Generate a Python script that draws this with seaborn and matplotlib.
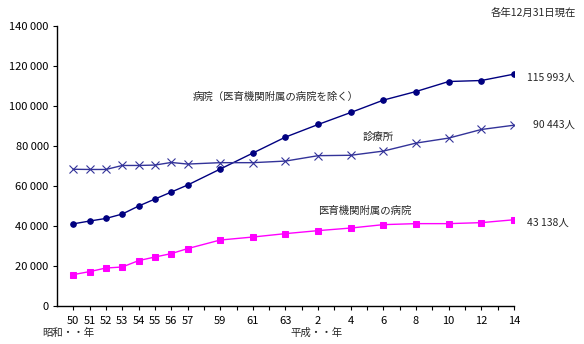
import matplotlib
matplotlib.use("Agg")
import matplotlib.pyplot as plt
import seaborn as sns
import pandas as pd
from matplotlib.ticker import FuncFormatter

# Data (year in Western calendar; labels in Japanese era years)
years = [1975, 1976, 1977, 1978, 1979, 1980, 1981, 1982, 1984, 1986, 1988,
         1990, 1992, 1994, 1996, 1998, 2000, 2002]
tick_labels = ["50", "51", "52", "53", "54", "55", "56", "57", "59", "61", "63",
               "2", "4", "6", "8", "10", "12", "14"]
hospitals = [41100, 42500, 43800, 46000, 50000, 53500, 57000, 60500, 68500, 76500,
             84500, 90800, 96800, 103000, 107300, 112300, 112800, 115993]
clinics = [68400, 68300, 68300, 70300, 70300, 70500, 71800, 71000, 71700, 71700,
           72500, 75200, 75400, 77500, 81500, 84000, 88300, 90443]
univ_hospitals = [15700, 17200, 19000, 19500, 22700, 24500, 26200, 28700, 33000, 34500,
                  36200, 37700, 39000, 40700, 41200, 41200, 41700, 43138]
series_names = ["病院（医育機関附属の病院を除く）", "診療所", "医育機関附属の病院"]
end_labels = ["115 993人", "90 443人", "43 138人"]

sns.set_theme(style="white")
plt.rcParams['font.family'] = ['Noto Sans CJK JP', 'DejaVu Sans']

fig = plt.figure(figsize=(5.84, 3.44), dpi=100)
ax = fig.add_axes([0.0976, 0.1105, 0.7825, 0.8135])

df = pd.DataFrame({"year": years, "h": hospitals, "c": clinics, "u": univ_hospitals})
sns.lineplot(data=df, x="year", y="h", ax=ax, color="#000080", marker="o",
             markersize=4, markeredgecolor="#000080", linewidth=1.0)
sns.lineplot(data=df, x="year", y="c", ax=ax, color="#333399", marker="x",
             markersize=6, markeredgecolor="#333399", markeredgewidth=0.8, linewidth=1.0)
sns.lineplot(data=df, x="year", y="u", ax=ax, color="#FF00FF", marker="s",
             markersize=5, markeredgecolor="#FF00FF", linewidth=1.0)

ax.set_xlim(1974, 2002)
ax.set_ylim(0, 140000)
ax.set_yticks(range(0, 140001, 20000))
ax.yaxis.set_major_formatter(FuncFormatter(lambda v, p: f"{int(v):,}".replace(",", " ")))
all_years = list(range(1975, 2003))
ax.set_xticks(all_years)
lab_map = dict(zip(years, tick_labels))
ax.set_xticklabels([lab_map.get(y, "") for y in all_years])
ax.set_xlabel("")
ax.set_ylabel("")

for s in ["top", "right"]:
    ax.spines[s].set_visible(False)
for s in ["left", "bottom"]:
    ax.spines[s].set_color("black")
    ax.spines[s].set_linewidth(1.0)
ax.tick_params(axis="both", which="both", direction="out", length=3, width=0.8,
               colors="black", labelsize=8, pad=2)
ax.tick_params(axis="y", left=True, pad=3)
ax.tick_params(axis="x", bottom=True, pad=4)

fs = 7.5
ax.text(1982.3, 104500, series_names[0], fontsize=fs, ha="left", va="center")
ax.text(1992.7, 84500, series_names[1], fontsize=fs, ha="left", va="center")
ax.text(1990.0, 47500, series_names[2], fontsize=fs, ha="left", va="center")

fig.text(527 / 584, 1 - 78 / 344, end_labels[0], fontsize=fs, ha="left", va="center")
fig.text(533 / 584, 1 - 125 / 344, end_labels[1], fontsize=fs, ha="left", va="center")
fig.text(527 / 584, 1 - 223 / 344, end_labels[2], fontsize=fs, ha="left", va="center")
fig.text(576 / 584, 1 - 13 / 344, "各年12月31日現在", fontsize=fs, ha="right", va="center")
fig.text(42 / 584, 1 - 333 / 344, "昭和・・年", fontsize=fs, ha="left", va="center")
fig.text(290 / 584, 1 - 333 / 344, "平成・・年", fontsize=fs, ha="left", va="center")

fig.savefig("out.png", dpi=100)
